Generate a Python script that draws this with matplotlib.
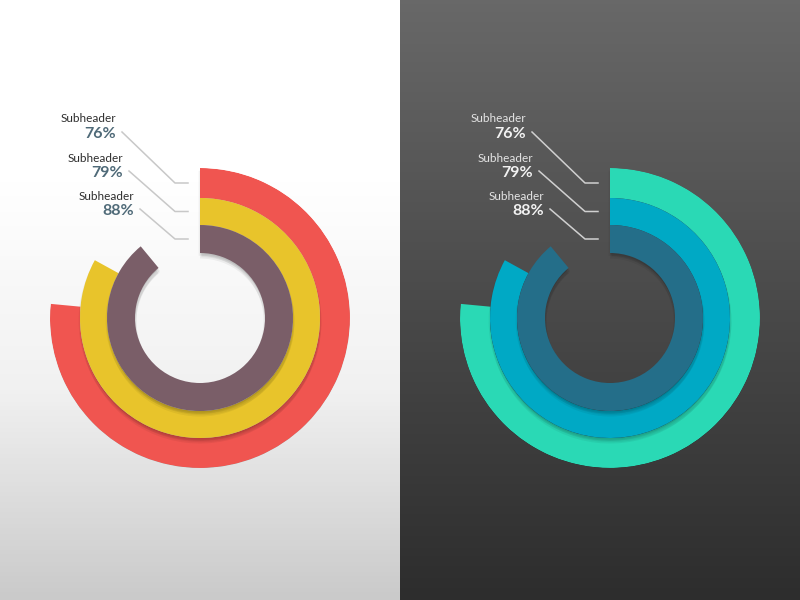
import numpy as np
import matplotlib
matplotlib.use('Agg')
import matplotlib.pyplot as plt
import matplotlib.patheffects as pe
from matplotlib.colors import LinearSegmentedColormap

# data
labels = ['Subheader', 'Subheader', 'Subheader']
values = [76, 79, 88]          # printed percentages, outer ring -> inner ring
arc_pct = [76.5, 83, 89]       # sweep of each ring as drawn in the artwork
light_colors = ['#F05550', '#E8C42B', '#7A5E68']
dark_colors = ['#2AD9B5', '#00A9C5', '#246E89']

W, H = 800, 600
CY = 318                        # ring centre (pixels from top)
R_OUT = 150
RING_EDGES = [150, 120, 93, 65]  # radii of ring boundaries, px

fig = plt.figure(figsize=(8, 6), dpi=100)

# backgrounds
bg = fig.add_axes([0, 0, 1, 1])
bg.set_xlim(0, W)
bg.set_ylim(H, 0)
bg.axis('off')
y = np.linspace(0, 1, 300)[:, None]
left_grad = np.clip((y - 0.3) / 0.7, 0, 1)
right_grad = y
cm_light = LinearSegmentedColormap.from_list('lt', ['#FFFFFF', '#F1F1F1', '#CACACA'])
cm_dark = LinearSegmentedColormap.from_list('dk', ['#686868', '#4A4A4A', '#2D2D2D'])
bg.imshow(left_grad, cmap=cm_light, extent=[0, 400, H, 0], aspect='auto', vmin=0, vmax=1)
bg.imshow(right_grad, cmap=cm_dark, extent=[400, 800, H, 0], aspect='auto', vmin=0, vmax=1)

# soft shadow made of a few faint offset copies
soft_shadow = [pe.SimplePatchShadow(offset=(dx, dy), alpha=0.05, shadow_rgbFace='black')
               for dx, dy in [(0, -1), (1, -2), (1, -3), (0, -4), (-1, -2)]] + [pe.Normal()]


def panel(cx, colors, sub_color, pct_color, line_color):
    ax = fig.add_axes([(cx - R_OUT) / W, (H - CY - R_OUT) / H, 2 * R_OUT / W, 2 * R_OUT / H],
                      projection='polar')
    ax.set_theta_zero_location('N')
    ax.set_theta_direction(-1)
    ax.set_ylim(0, R_OUT)
    ax.axis('off')
    ax.patch.set_alpha(0)
    for i, a in enumerate(arc_pct):
        r_top, r_bot = RING_EDGES[i], RING_EDGES[i + 1]
        ax.bar(0, r_top - r_bot, width=a / 100 * 2 * np.pi, bottom=r_bot, align='edge',
               color=colors[i], linewidth=0, zorder=3 + i, path_effects=soft_shadow)

    # labels + leader lines
    text_right = cx - 84
    sub_y = [119, 158, 196]
    text_x = [text_right, text_right + 7, text_right + 18]
    for i, v in enumerate(values):
        ry = CY - (RING_EDGES[i] + RING_EDGES[i + 1]) / 2
        tx = text_x[i]
        fig.text(tx / W, 1 - sub_y[i] / H, labels[i], ha='right', va='center',
                 fontsize=8.5, family='Lato', color=sub_color)
        fig.text(tx / W, 1 - (sub_y[i] + 15) / H, f'{v}%', ha='right', va='center',
                 fontsize=11.5, family='Lato', fontweight='bold', color=pct_color)
        xs = [tx + 6, cx - 25, cx - 12]
        ys = [sub_y[i] + 13, ry, ry]
        bg.plot(xs, ys, color=line_color, linewidth=1.1, zorder=2)


panel(200, light_colors, '#2E2E2E', '#4F6A78', '#C8C8C8')
panel(610, dark_colors, '#E4E4E4', '#F2F2F2', '#D0D0D0')

fig.savefig('out.png', dpi=100)
